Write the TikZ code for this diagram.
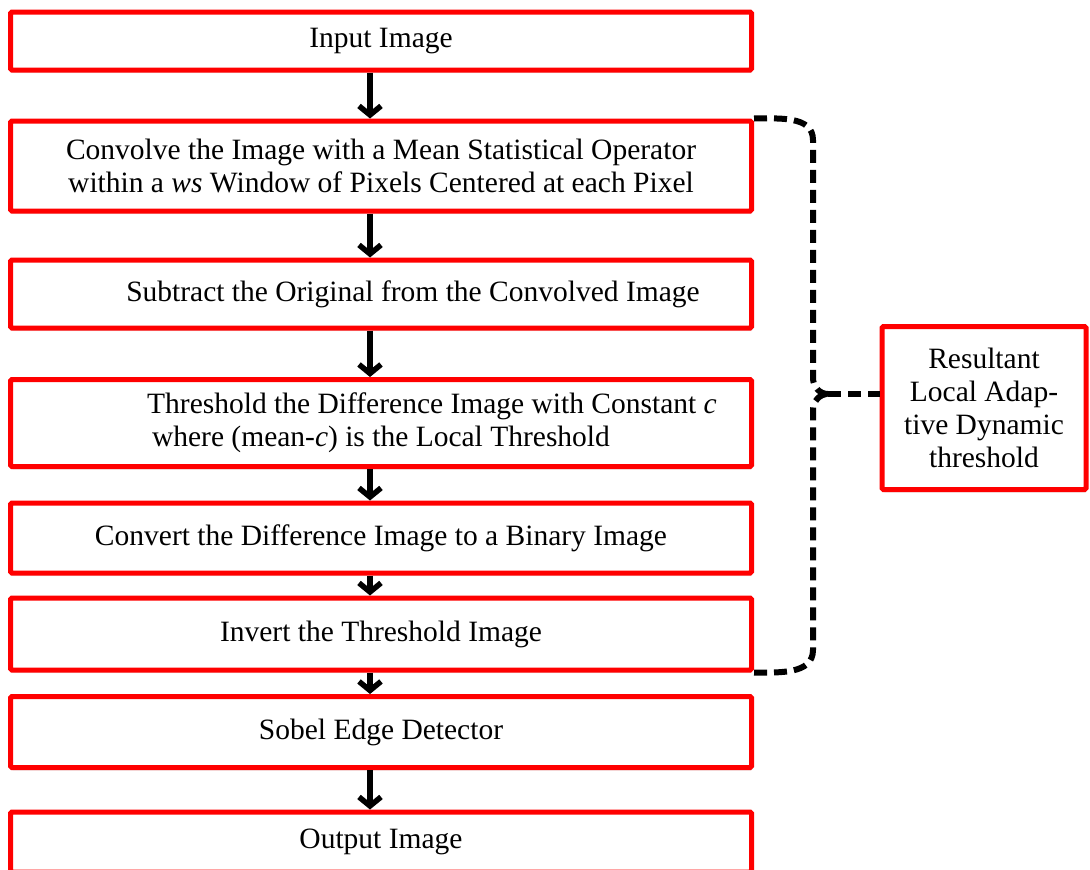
\documentclass[tikz,border=0pt]{standalone}
\usepackage{fontspec}
\setmainfont{Liberation Serif}
\usepackage{tikz}
\usetikzlibrary{arrows.meta,shadows}

\begin{document}
\begin{tikzpicture}[x=1pt,y=-1pt,->,>={Straight Barb[length=9pt,width=22pt]},
                    line width=5.5pt,
                    stepbox/.style={rectangle,draw=red,fill=white,rounded corners=1.5pt,
                      line width=5pt,minimum width=741pt,inner sep=0pt,align=center,
                      font=\fontsize{29.5}{33}\selectfont,
                      drop shadow={opacity=0.15,shadow xshift=1pt,shadow yshift=-3pt}},
                    sidebox/.style={stepbox,minimum width=204pt,minimum height=163pt},
                    bracket/.style={-,black,line width=6pt,dash pattern=on 13pt off 7pt}]
  \useasboundingbox (0,0) rectangle (1090,870);

  \node[stepbox,minimum height=58pt] (input) at (381,41) {Input Image};
  \node[stepbox,minimum height=90pt,node distance=125pt,below of=input] (conv)
    {Convolve the Image with a Mean Statistical Operator\\within a \textit{ws} Window of Pixels Centered at each Pixel};
  \node[stepbox,minimum height=68pt,node distance=128pt,below of=conv] (sub)
    {\hspace*{64pt}Subtract the Original from the Convolved Image};
  \node[stepbox,minimum height=87pt,node distance=129pt,below of=sub] (thr)
    {\hspace*{102pt}Threshold the Difference Image with Constant \textit{c}\\where (mean-\textit{c}) is the Local Threshold};
  \node[stepbox,minimum height=70pt,node distance=115pt,below of=thr] (bin)
    {Convert the Difference Image to a Binary Image};
  \node[stepbox,minimum height=72pt,node distance=96pt,below of=bin] (inv)
    {Invert the Threshold Image};
  \node[stepbox,minimum height=71pt,node distance=98pt,below of=inv] (sobel)
    {Sobel Edge Detector};
  \node[stepbox,minimum height=60pt,node distance=110pt,below of=sobel] (output)
    {Output Image};

  \node[sidebox] (res) at (984,408) {Resultant\\Local Adap-\\tive Dynamic\\threshold};

\path
    ([xshift=-11pt]input.south) edge ([xshift=-11pt]conv.north)
    ([xshift=-11pt]conv.south) edge ([xshift=-11pt]sub.north)
    ([xshift=-11pt]sub.south) edge ([xshift=-11pt]thr.north)
    ([xshift=-11pt]thr.south) edge ([xshift=-11pt]bin.north)
    ([xshift=-11pt]bin.south) edge ([xshift=-11pt]inv.north)
    ([xshift=-11pt]inv.south) edge ([xshift=-11pt]sobel.north)
    ([xshift=-11pt]sobel.south) edge ([xshift=-11pt]output.north)
;

  % brace from the convolve step down to the invert step
  \coordinate (brace) at (828,394);
  \draw[bracket] (conv.north east) to[out=0,in=90] (813,140) -- (813,378)
    to[out=-90,in=180] (brace);
  \draw[bracket] (inv.south east) to[out=0,in=-90] (813,650) -- (813,410)
    to[out=90,in=180] (brace);
  \draw[bracket] (brace) -- (brace -| res.west);
\end{tikzpicture}
\end{document}
